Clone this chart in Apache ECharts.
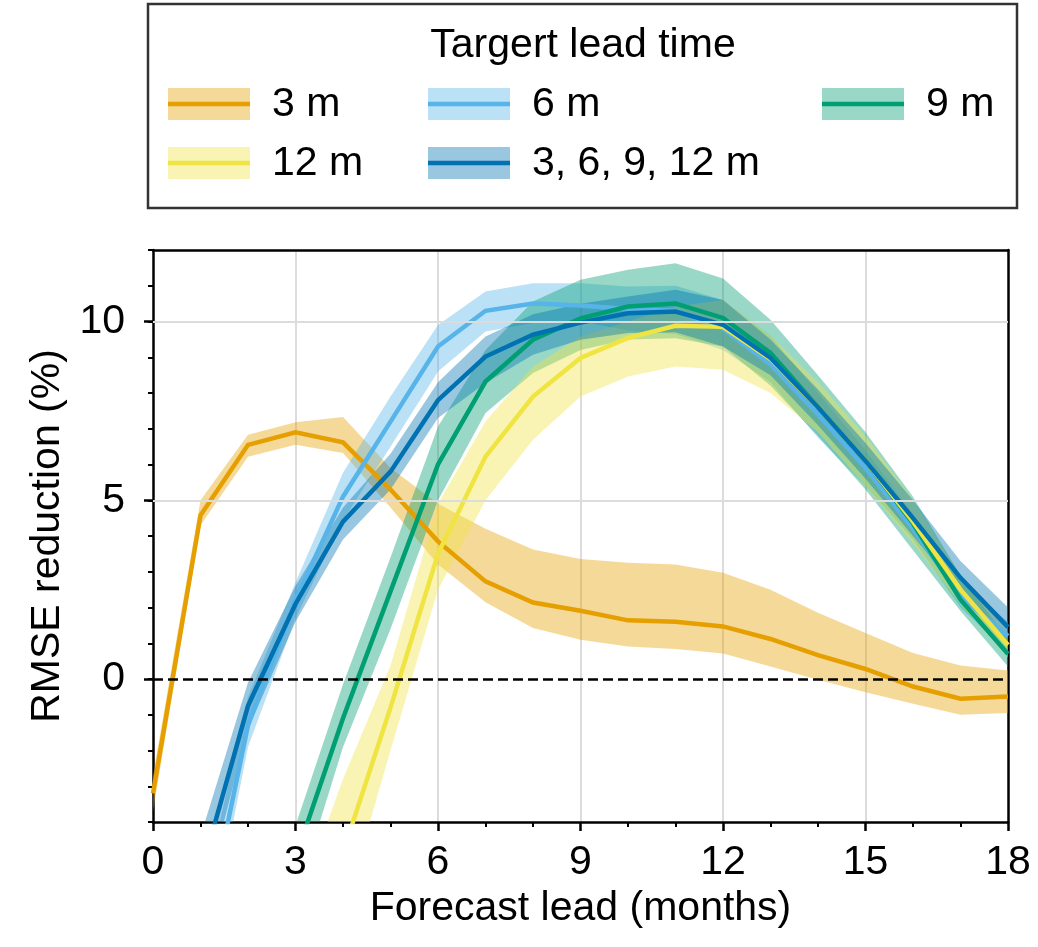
<!DOCTYPE html>
<html>
<head>
<meta charset="utf-8">
<script src="https://cdn.jsdelivr.net/npm/echarts@6/dist/echarts.min.js"></script>
<style>
  html, body { margin: 0; padding: 0; background: #fff; }
  #chart { width: 1038px; height: 947px; }
</style>
</head>
<body>
<div id="chart"></div>
<script>
// Forecast lead in months
const leads = [0, 1, 2, 3, 4, 5, 6, 7, 8, 9, 10, 11, 12, 13, 14, 15, 16, 17, 18];
const xTicks = [0, 3, 6, 9, 12, 15, 18];
const yTicks = [0, 5, 10];

const legendTitle = 'Targert lead time';
const xName = 'Forecast lead (months)';
const yName = 'RMSE reduction (%)';

// RMSE reduction (%) per target lead time: mean and spread band
const names = ['3 m', '6 m', '9 m', '12 m', '3, 6, 9, 12 m'];

const mean3 = [-3.2, 4.58, 6.55, 6.9, 6.62, 5.3, 3.85, 2.73, 2.14, 1.91, 1.64, 1.6, 1.47, 1.12, 0.67, 0.28, -0.21, -0.55, -0.49];
const lo3   = [-3.7, 4.3, 6.22, 6.55, 6.32, 4.8, 3.2, 2.15, 1.43, 1.1, 0.91, 0.84, 0.71, 0.35, -0.02, -0.37, -0.69, -1.0, -0.95];
const hi3   = [-2.7, 5.0, 6.83, 7.18, 7.33, 5.9, 4.9, 4.2, 3.62, 3.36, 3.25, 3.2, 2.97, 2.5, 1.85, 1.29, 0.73, 0.38, 0.24];

const mean6 = [-14, -7.7, -1.3, 2.2, 5.1, 7.2, 9.3, 10.3, 10.5, 10.45, 10.35, 10.3, 9.8, 8.8, 7.4, 5.9, 4.2, 2.3, 1.2];
const lo6   = [-15, -8.6, -1.9, 1.7, 4.45, 6.5, 8.6, 9.72, 9.96, 10.0, 9.75, 9.65, 9.2, 8.3, 6.75, 5.4, 3.9, 2.0, 0.75];
const hi6   = [-13, -6.4, -0.5, 2.7, 5.77, 7.9, 9.9, 10.84, 11.07, 11.07, 10.98, 11.0, 10.6, 9.6, 8.0, 6.4, 4.6, 2.7, 1.6];

const mean9 = [-16, -13, -9, -5.0, -1.1, 2.45, 6.0, 8.32, 9.49, 10.09, 10.42, 10.5, 10.1, 9.12, 7.6, 6.1, 4.35, 2.22, 0.7];
const lo9   = [-17, -14, -10, -6.2, -1.9, 1.4, 5.0, 7.44, 8.56, 9.2, 9.5, 9.53, 9.3, 8.2, 6.8, 5.3, 3.6, 1.9, 0.35];
const hi9   = [-15, -12, -8, -4.1, -0.15, 3.4, 7.06, 9.2, 10.56, 11.17, 11.45, 11.63, 11.2, 10.05, 8.5, 6.9, 5.1, 2.9, 1.1];

const mean12 = [-18, -15, -11, -8.9, -4.85, -0.8, 3.5, 6.22, 7.9, 8.98, 9.54, 9.88, 9.85, 8.95, 7.6, 6.1, 4.4, 2.5, 0.95];
const lo12   = [-19, -16, -12, -10.5, -6.6, -2.0, 2.5, 5.0, 6.69, 7.9, 8.46, 8.74, 8.65, 8.0, 6.9, 5.4, 3.8, 2.1, 0.6];
const hi12   = [-17, -14, -10, -6.5, -2.8, 0.38, 4.9, 7.2, 8.74, 9.58, 10.0, 10.42, 10.6, 9.6, 8.3, 6.8, 5.0, 2.9, 1.3];

const meanAll = [-12, -5.46, -0.75, 2.1, 4.4, 5.8, 7.8, 9.02, 9.63, 9.97, 10.23, 10.28, 9.91, 8.98, 7.6, 6.1, 4.5, 2.83, 1.45];
const loAll   = [-13, -6.5, -1.4, 1.6, 3.9, 5.3, 7.3, 8.28, 9.07, 9.49, 9.68, 9.7, 9.3, 8.5, 7.1, 5.6, 4.0, 2.4, 1.0];
const hiAll   = [-11, -4.4, -0.1, 2.6, 4.8, 6.3, 8.3, 9.58, 10.2, 10.5, 10.7, 10.89, 10.6, 9.5, 8.1, 6.6, 5.0, 3.3, 2.0];

const means = [mean3, mean6, mean9, mean12, meanAll];
const lows  = [lo3, lo6, lo9, lo12, loAll];
const highs = [hi3, hi6, hi9, hi12, hiAll];
const colors = ['#E69F00', '#56B4E9', '#009E73', '#F0E442', '#0072B2'];

const FONT = 'Liberation Sans, Arial, Helvetica, sans-serif';
const FS = 41;
const BAND_ALPHA = 0.4;
const LINE_W = 4.5;

function hexToRgba(hex, a) {
  const n = parseInt(hex.slice(1), 16);
  return `rgba(${(n >> 16) & 255},${(n >> 8) & 255},${n & 255},${a})`;
}

// series sit on a hidden category axis (one slot per lead month) so the
// bands can be stacked by index; the visible value axis shares the grid
const onLeadAxis = { xAxisIndex: 1, yAxisIndex: 0 };

const series = [];

// light horizontal grid lines
series.push(Object.assign({
  type: 'line', data: [], silent: true, z: 1,
  markLine: {
    silent: true, symbol: 'none', label: { show: false },
    lineStyle: { color: '#dcdcdc', width: 2, type: 'solid' },
    data: yTicks.filter(v => v !== 0).map(v => ({ yAxis: v }))
  }
}, onLeadAxis));

// spread bands: invisible lower bound, then the stacked band width filled
names.forEach((name, k) => {
  const stackId = 'band' + k;
  series.push(Object.assign({
    type: 'line', name: name + ' low', data: lows[k].slice(),
    stack: stackId, stackStrategy: 'all', symbol: 'none', silent: true,
    lineStyle: { width: 0, opacity: 0 }, z: 2
  }, onLeadAxis));
  series.push(Object.assign({
    type: 'line', name: name + ' band', data: highs[k].map((h, i) => +(h - lows[k][i]).toFixed(3)),
    stack: stackId, stackStrategy: 'all', symbol: 'none', silent: true,
    lineStyle: { width: 0, opacity: 0 },
    areaStyle: { color: hexToRgba(colors[k], BAND_ALPHA), opacity: 1 },
    z: 2
  }, onLeadAxis));
});

// mean lines
names.forEach((name, k) => {
  series.push(Object.assign({
    type: 'line', name: name, data: means[k].slice(),
    symbol: 'none', silent: true,
    lineStyle: { color: colors[k], width: LINE_W, join: 'miter' }, z: 4
  }, onLeadAxis));
});

// zero reference
series.push(Object.assign({
  type: 'line', data: [], silent: true, z: 5,
  markLine: {
    silent: true, symbol: 'none', label: { show: false },
    lineStyle: { color: '#000', width: 2.5, type: [10, 5] },
    data: [{ yAxis: 0 }]
  }
}, onLeadAxis));

// legend box drawn as graphic elements
const legendSlots = [
  { x: 168, y: 104 }, { x: 428, y: 104 }, { x: 822, y: 104 },
  { x: 168, y: 163 }, { x: 428, y: 163 }
];
const legendGraphics = [
  {
    type: 'rect', silent: true,
    shape: { x: 148, y: 4, width: 869, height: 204 },
    style: { fill: '#fff', stroke: '#333', lineWidth: 2.5 }
  },
  {
    type: 'text', x: 583, y: 46, silent: true,
    style: { text: legendTitle, font: `${FS}px ${FONT}`, fill: '#000', align: 'center', verticalAlign: 'middle' }
  }
];
names.forEach((name, k) => {
  const s = legendSlots[k];
  legendGraphics.push({
    type: 'rect', silent: true,
    shape: { x: s.x, y: s.y - 16, width: 82, height: 32 },
    style: { fill: hexToRgba(colors[k], BAND_ALPHA) }
  });
  legendGraphics.push({
    type: 'line', silent: true,
    shape: { x1: s.x, y1: s.y, x2: s.x + 82, y2: s.y },
    style: { stroke: colors[k], lineWidth: 4.5 }
  });
  legendGraphics.push({
    type: 'text', silent: true, x: s.x + 104, y: s.y + 1,
    style: { text: name, font: `${FS}px ${FONT}`, fill: '#000', align: 'left', verticalAlign: 'middle' }
  });
});

const axisLineStyle = { color: '#000', width: 2.5 };

const option = {
  animation: false,
  backgroundColor: '#fff',
  textStyle: { fontFamily: FONT },
  grid: {
    left: 153, right: 30, top: 250, bottom: 125,
    show: false
  },
  xAxis: [
    {
      type: 'value', min: 0, max: 18, interval: 3,
      name: xName, nameLocation: 'middle', nameGap: 62,
      nameTextStyle: { fontSize: FS, color: '#000', fontFamily: FONT },
      axisLine: { show: true, onZero: false, lineStyle: axisLineStyle },
      axisTick: { show: true, length: 9, lineStyle: { color: '#000', width: 2.5 } },
      minorTick: { show: true, splitNumber: 3, length: 5, lineStyle: { color: '#000', width: 2 } },
      axisLabel: { fontSize: FS, color: '#000', margin: 20, fontFamily: FONT },
      splitLine: { show: true, showMinLine: false, showMaxLine: false, lineStyle: { color: '#dcdcdc', width: 2 } }
    },
    {
      type: 'category', data: leads, boundaryGap: false, show: false,
      axisLine: { onZero: false }
    },
    {
      // top spine
      type: 'value', min: 0, max: 18, position: 'top',
      axisLine: { show: true, onZero: false, lineStyle: axisLineStyle },
      axisTick: { show: false }, axisLabel: { show: false }, splitLine: { show: false }
    }
  ],
  yAxis: [
    {
      type: 'value', min: -4, max: 12, interval: 1,
      axisLine: { show: true, onZero: false, lineStyle: axisLineStyle },
      axisTick: { show: true, length: 5, lineStyle: { color: '#000', width: 2 } },
      axisLabel: { show: false },
      splitLine: { show: false }
    },
    {
      type: 'value', min: -4, max: 12, position: 'left',
      name: yName, nameLocation: 'middle', nameGap: 84, nameRotate: 90,
      nameTextStyle: { fontSize: FS, color: '#000', fontFamily: FONT },
      axisLine: { show: false, onZero: false },
      axisTick: { show: true, length: 9, customValues: yTicks, lineStyle: { color: '#000', width: 2.5 } },
      axisLabel: { fontSize: FS, color: '#000', margin: 28, customValues: yTicks, fontFamily: FONT },
      splitLine: { show: false }
    },
    {
      // right spine
      type: 'value', min: -4, max: 12, position: 'right',
      axisLine: { show: true, onZero: false, lineStyle: axisLineStyle },
      axisTick: { show: false }, axisLabel: { show: false }, splitLine: { show: false }
    }
  ],
  graphic: legendGraphics,
  series: series
};

const chart = echarts.init(document.getElementById('chart'), null, { renderer: 'canvas' });
chart.setOption(option);
</script>
</body>
</html>
